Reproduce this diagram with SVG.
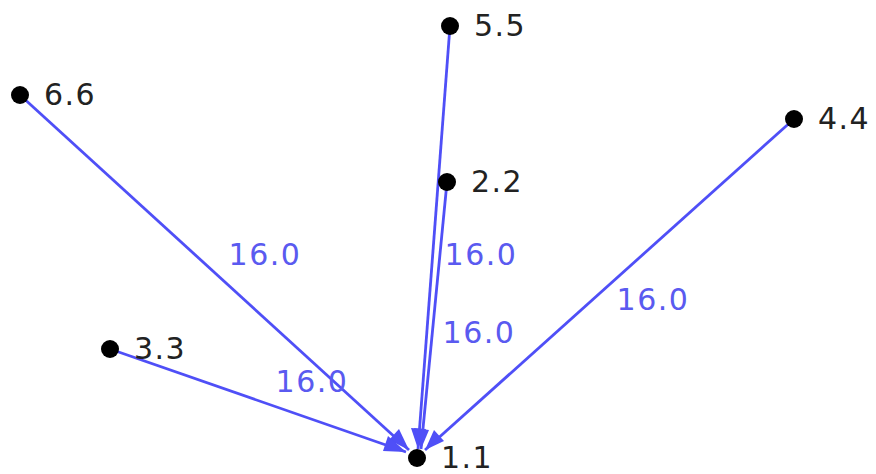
<svg xmlns="http://www.w3.org/2000/svg" width="876" height="474" viewBox="0 0 876 474">
<defs>
<style>
.node circle{fill:#000}
.node text{font-family:"DejaVu Sans",sans-serif;font-size:30px;fill:#222;letter-spacing:1.5px}
.edges line{stroke:#4f4ff7;stroke-width:2.8}
.edges path{fill:#4f4ff7}
.lbl{font-family:"DejaVu Sans",sans-serif;font-size:30px;fill:#5a5af0;letter-spacing:1.5px}
</style>
</defs>
<rect width="876" height="474" fill="#fff"/>
<g class="edges">
<line x1="20" y1="95" x2="409" y2="450"/>
<path d="M409,450 L389,440 L399,429 z"/>
<line x1="110" y1="349" x2="406" y2="452"/>
<path d="M406,452 L383,451 L388,436 z"/>
<line x1="450" y1="26" x2="418" y2="449"/>
<path d="M418,449 L411,428 L426,429 z"/>
<line x1="447" y1="182" x2="421" y2="449"/>
<path d="M421,449 L414,428 L429,430 z"/>
<line x1="794" y1="119" x2="425" y2="450"/>
<path d="M425,450 L434,430 L444,441 z"/>
<text class="lbl" x="265" y="265" text-anchor="middle">16.0</text>
<text class="lbl" x="481" y="265" text-anchor="middle">16.0</text>
<text class="lbl" x="479" y="343" text-anchor="middle">16.0</text>
<text class="lbl" x="653" y="310" text-anchor="middle">16.0</text>
<text class="lbl" x="312" y="392" text-anchor="middle">16.0</text>
</g>
<g id="n1" class="node"><circle cx="417" cy="458" r="9"/><text x="441" y="468">1.1</text></g>
<g id="n2" class="node"><circle cx="447" cy="182" r="9"/><text x="471" y="192">2.2</text></g>
<g id="n3" class="node"><circle cx="110" cy="349" r="9"/><text x="134" y="359">3.3</text></g>
<g id="n4" class="node"><circle cx="794" cy="119" r="9"/><text x="818" y="129">4.4</text></g>
<g id="n5" class="node"><circle cx="450" cy="26" r="9"/><text x="474" y="36">5.5</text></g>
<g id="n6" class="node"><circle cx="20" cy="95" r="9"/><text x="44" y="105">6.6</text></g>
</svg>
